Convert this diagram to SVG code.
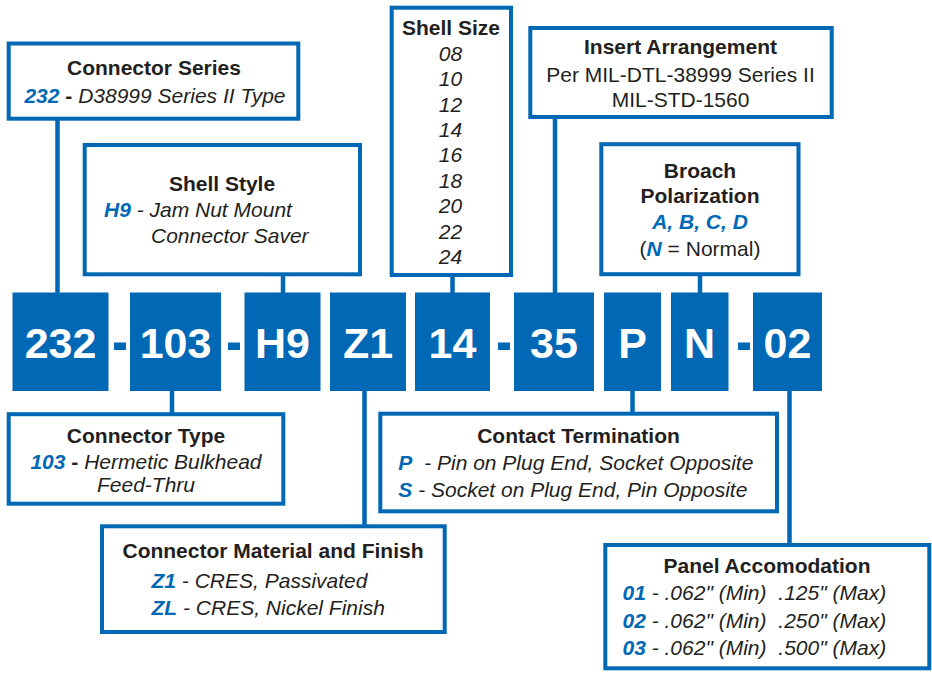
<svg xmlns="http://www.w3.org/2000/svg" width="932" height="677" viewBox="0 0 932 677">
<style>
.box{fill:#fff;stroke:#0068b4;stroke-width:4}
.code{fill:#0068b4}
.dash{fill:#0068b4}
.ct{fill:#fff;font-family:"Liberation Sans",Arial,sans-serif;font-weight:bold;font-size:43px;text-anchor:middle}
.t{fill:#231f20;font-family:"Liberation Sans",Arial,sans-serif;font-size:21px}
.b{font-weight:bold}
.i{font-style:italic}
.bl{fill:#0068b4;font-weight:bold;font-style:italic}
.m{text-anchor:middle}
.ln{stroke:#0068b4;stroke-width:4.5;fill:none}
</style>
<rect width="932" height="677" fill="#fff"/>
<g id="connectors">
<line class="ln" x1="57.5" y1="120" x2="57.5" y2="293"/>
<line class="ln" x1="283" y1="276" x2="283" y2="293"/>
<line class="ln" x1="452.5" y1="277" x2="452.5" y2="293"/>
<line class="ln" x1="555" y1="119" x2="555" y2="293"/>
<line class="ln" x1="700" y1="276" x2="700" y2="293"/>
<line class="ln" x1="172" y1="390" x2="172" y2="413"/>
<line class="ln" x1="364.5" y1="390" x2="364.5" y2="525"/>
<line class="ln" x1="632.5" y1="390" x2="632.5" y2="413"/>
<line class="ln" x1="789.5" y1="390" x2="789.5" y2="544"/>
</g>
<g id="code-row">
<rect class="code" x="12.5" y="292.5" width="96" height="98.5"/>
<rect class="code" x="130" y="292.5" width="91" height="98.5"/>
<rect class="code" x="244.5" y="292.5" width="76" height="98.5"/>
<rect class="code" x="330" y="292.5" width="76" height="98.5"/>
<rect class="code" x="415" y="292.5" width="75" height="98.5"/>
<rect class="code" x="514" y="292.5" width="80" height="98.5"/>
<rect class="code" x="604" y="292.5" width="57" height="98.5"/>
<rect class="code" x="671" y="292.5" width="57.5" height="98.5"/>
<rect class="code" x="753" y="292.5" width="69" height="98.5"/>
<rect class="dash" x="114" y="342.5" width="12" height="7.5"/>
<rect class="dash" x="228" y="342.5" width="12" height="7.5"/>
<rect class="dash" x="498" y="342.5" width="12" height="7.5"/>
<rect class="dash" x="738" y="342.5" width="12" height="7.5"/>
<text class="ct" x="60.5" y="358">232</text>
<text class="ct" x="175.5" y="358">103</text>
<text class="ct" x="282.5" y="358">H9</text>
<text class="ct" x="368" y="358">Z1</text>
<text class="ct" x="452.5" y="358">14</text>
<text class="ct" x="554" y="358">35</text>
<text class="ct" x="632.5" y="358">P</text>
<text class="ct" x="699.5" y="358">N</text>
<text class="ct" x="787.5" y="358">02</text>
</g>
<g id="connector-series">
<rect class="box" x="8.7" y="43.5" width="289.6" height="75.2"/>
<text class="t b m" x="154" y="75">Connector Series</text>
<text class="t m" x="155" y="102.7"><tspan class="bl">232</tspan><tspan class="b"> - </tspan><tspan class="i">D38999 Series II Type</tspan></text>
</g>
<g id="shell-style">
<rect class="box" x="84.7" y="145" width="275.3" height="129.3"/>
<text class="t b m" x="222" y="190.7">Shell Style</text>
<text class="t" x="104" y="216.7"><tspan class="bl">H9</tspan><tspan class="i"> - Jam Nut Mount</tspan></text>
<text class="t i" x="151" y="243.3">Connector Saver</text>
</g>
<g id="shell-size">
<rect class="box" x="391.7" y="7.7" width="119.3" height="267.3"/>
<text class="t b m" x="451" y="35">Shell Size</text>
<text class="t i m" x="450.5" y="60.7">08</text>
<text class="t i m" x="450.5" y="86.1">10</text>
<text class="t i m" x="450.5" y="111.5">12</text>
<text class="t i m" x="450.5" y="136.9">14</text>
<text class="t i m" x="450.5" y="162.3">16</text>
<text class="t i m" x="450.5" y="187.7">18</text>
<text class="t i m" x="450.5" y="213.1">20</text>
<text class="t i m" x="450.5" y="238.5">22</text>
<text class="t i m" x="450.5" y="263.9">24</text>
</g>
<g id="insert-arrangement">
<rect class="box" x="530.3" y="28" width="301.4" height="89"/>
<text class="t b m" x="680.5" y="54.3">Insert Arrangement</text>
<text class="t m" x="680.5" y="81.7">Per MIL-DTL-38999 Series II</text>
<text class="t m" x="680.5" y="107.3">MIL-STD-1560</text>
</g>
<g id="broach-polarization">
<rect class="box" x="601.3" y="144.2" width="197.2" height="130"/>
<text class="t b m" x="700" y="178.3">Broach</text>
<text class="t b m" x="700" y="203.3">Polarization</text>
<text class="t bl m" x="700" y="229.3">A, B, C, D</text>
<text class="t m" x="700" y="255.7">(<tspan class="bl">N</tspan> = Normal)</text>
</g>
<g id="connector-type">
<rect class="box" x="8.7" y="414.2" width="274.6" height="89.5"/>
<text class="t b m" x="146" y="443">Connector Type</text>
<text class="t m" x="146" y="468.5"><tspan class="bl">103</tspan><tspan class="b"> - </tspan><tspan class="i">Hermetic Bulkhead</tspan></text>
<text class="t i m" x="146" y="491.5">Feed-Thru</text>
</g>
<g id="contact-termination">
<rect class="box" x="380.3" y="413.7" width="396.7" height="97.6"/>
<text class="t b m" x="578.5" y="443.3">Contact Termination</text>
<text class="t" x="398.3" y="470"><tspan class="bl">P</tspan><tspan class="i" dx="6"> - Pin on Plug End, Socket Opposite</tspan></text>
<text class="t" x="398.3" y="496.7"><tspan class="bl">S</tspan><tspan class="i"> - Socket on Plug End, Pin Opposite</tspan></text>
</g>
<g id="material-finish">
<rect class="box" x="102" y="526.3" width="342.7" height="105.7"/>
<text class="t b m" x="273" y="558.3">Connector Material and Finish</text>
<text class="t" x="151.5" y="588.3"><tspan class="bl">Z1</tspan><tspan class="i"> - CRES, Passivated</tspan></text>
<text class="t" x="151.5" y="615"><tspan class="bl">ZL</tspan><tspan class="i"> - CRES, Nickel Finish</tspan></text>
</g>
<g id="panel-accomodation">
<rect class="box" x="605.3" y="545" width="324" height="123.3"/>
<text class="t b m" x="767" y="573.3">Panel Accomodation</text>
<text class="t" x="622.5" y="600"><tspan class="bl">01</tspan><tspan class="i"> - .062" (Min)</tspan><tspan class="i" dx="6"> .125" (Max)</tspan></text>
<text class="t" x="622.5" y="627.5"><tspan class="bl">02</tspan><tspan class="i"> - .062" (Min)</tspan><tspan class="i" dx="6"> .250" (Max)</tspan></text>
<text class="t" x="622.5" y="655"><tspan class="bl">03</tspan><tspan class="i"> - .062" (Min)</tspan><tspan class="i" dx="6"> .500" (Max)</tspan></text>
</g>
</svg>
